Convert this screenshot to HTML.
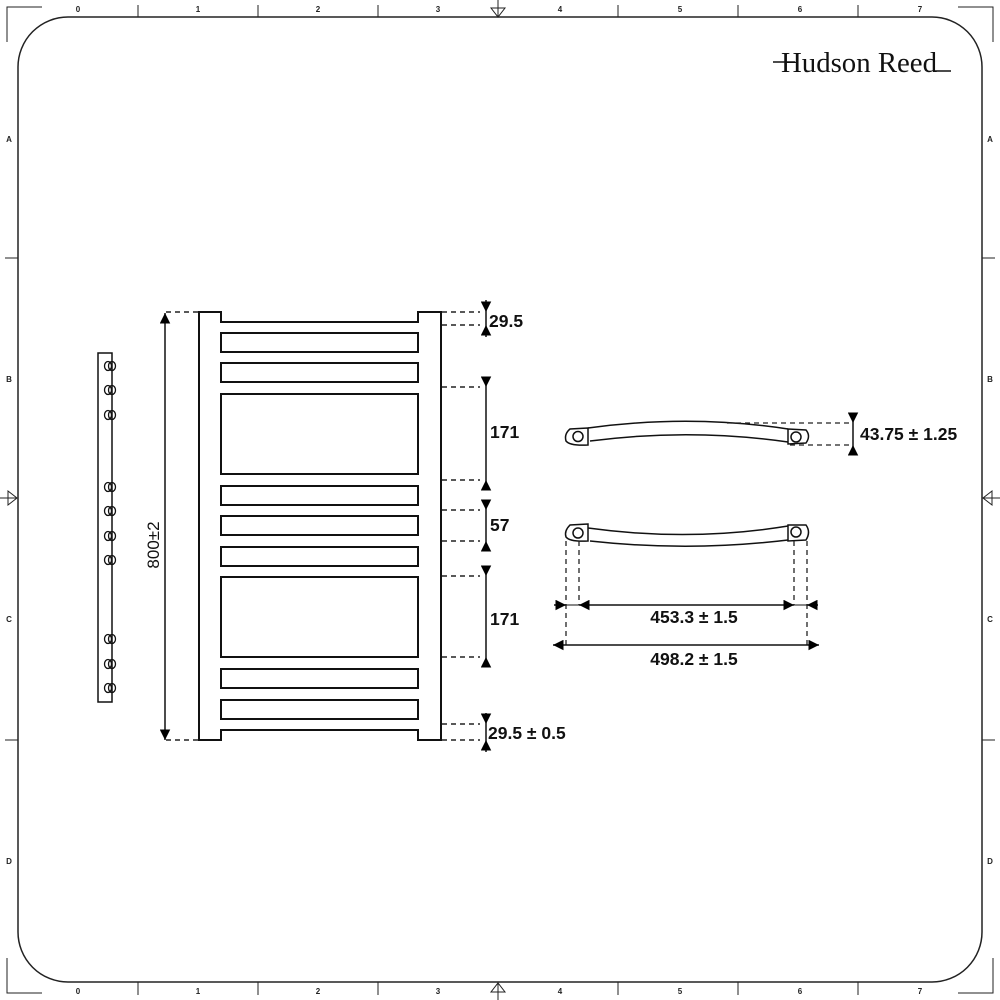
<!DOCTYPE html>
<html><head><style>html,body{margin:0;padding:0;background:#fff}svg{display:block}</style></head>
<body>
<svg width="1000" height="1000" viewBox="0 0 1000 1000" xmlns="http://www.w3.org/2000/svg" font-family="Liberation Sans, sans-serif">
<defs>
<marker id="ar" viewBox="0 0 10 10" refX="10" refY="5" markerWidth="7" markerHeight="7" orient="auto-start-reverse"><path d="M0,0 L10,5 L0,10 z" fill="#000"/></marker>
</defs>
<!-- frame -->
<g fill="none" stroke="#222" stroke-width="1.5">
<path d="M68,17 H932 A50,50 0 0 1 982,67 V932 A50,50 0 0 1 932,982 H68 A50,50 0 0 1 18,932 V67 A50,50 0 0 1 68,17 Z"/>
<path d="M7,42 V7 H42 M958,7 H993 V42 M7,958 V993 H42 M958,993 H993 V958" stroke-width="1"/>
<path d="M138,5 V17 M258,5 V17 M378,5 V17 M618,5 V17 M738,5 V17 M858,5 V17 M138,982 V995 M258,982 V995 M378,982 V995 M618,982 V995 M738,982 V995 M858,982 V995 M5,258 H18 M5,740 H18 M982,258 H995 M982,740 H995" stroke-width="1"/>
<path d="M498,0 V17 M491,8 L505,8 L498,17 Z M498,982 V1000 M491,992 L505,992 L498,983 Z M0,498 H17 M8,491 L8,505 L17,498 Z M982,498 H1000 M992,491 L992,505 L983,498 Z" stroke-width="1"/>
</g>
<g font-size="8" font-weight="bold" fill="#222" text-anchor="middle">
<text x="78" y="12">0</text><text x="198" y="12">1</text><text x="318" y="12">2</text><text x="438" y="12">3</text><text x="560" y="12">4</text><text x="680" y="12">5</text><text x="800" y="12">6</text><text x="920" y="12">7</text>
<text x="78" y="994">0</text><text x="198" y="994">1</text><text x="318" y="994">2</text><text x="438" y="994">3</text><text x="560" y="994">4</text><text x="680" y="994">5</text><text x="800" y="994">6</text><text x="920" y="994">7</text>
<text x="9" y="142">A</text><text x="9" y="382">B</text><text x="9" y="622">C</text><text x="9" y="864">D</text>
<text x="990" y="142">A</text><text x="990" y="382">B</text><text x="990" y="622">C</text><text x="990" y="864">D</text>
</g>
<!-- logo -->
<text x="781" y="72" font-family="Liberation Serif, serif" font-size="28" fill="#111" textLength="156" lengthAdjust="spacingAndGlyphs">Hudson Reed</text>
<path d="M773,62 H795 M935,71 H951" stroke="#111" stroke-width="1.5"/>
<!-- radiator -->
<g fill="none" stroke="#111" stroke-width="2">
<path d="M199,312 H221 V322 H418 V312 H441 V740 H418 V730 H221 V740 H199 Z"/>
<rect x="221" y="333" width="197" height="19"/>
<rect x="221" y="363" width="197" height="19"/>
<rect x="221" y="394" width="197" height="80"/>
<rect x="221" y="486" width="197" height="19"/>
<rect x="221" y="516" width="197" height="19"/>
<rect x="221" y="547" width="197" height="19"/>
<rect x="221" y="577" width="197" height="80"/>
<rect x="221" y="669" width="197" height="19"/>
<rect x="221" y="700" width="197" height="19"/>
</g>
<!-- side view -->
<path d="M112,353 H98 V702 H112 Z" fill="none" stroke="#111" stroke-width="1.5"/>
<g fill="none" stroke="#111" stroke-width="1.3">
<g id="c"><ellipse cx="108" cy="366" rx="3.5" ry="4.5"/><ellipse cx="112" cy="366" rx="3.5" ry="4.5"/></g>
<use href="#c" y="24"/><use href="#c" y="49"/><use href="#c" y="121"/><use href="#c" y="145"/><use href="#c" y="170"/><use href="#c" y="194"/><use href="#c" y="273"/><use href="#c" y="298"/><use href="#c" y="322"/>
</g>
<!-- 800 dim -->
<line x1="165" y1="740" x2="165" y2="313" stroke="#111" stroke-width="1.5" marker-start="url(#ar)" marker-end="url(#ar)"/>
<path d="M166,312 H199 M166,740 H199" stroke="#222" stroke-width="1.5" stroke-dasharray="5,4"/>
<text transform="translate(159,545) rotate(-90)" font-size="17" text-anchor="middle" fill="#111">800±2</text>
<!-- right dims -->
<path d="M442,312 H480 M442,325 H480 M442,387 H480 M442,480 H480 M442,510 H480 M442,541 H480 M442,576 H480 M442,657 H480 M442,724 H480 M442,740 H480" stroke="#222" stroke-width="1.5" stroke-dasharray="5,4"/>
<g stroke="#111" stroke-width="1.5">
<line x1="486" y1="300" x2="486" y2="312" marker-end="url(#ar)"/><line x1="486" y1="337" x2="486" y2="325" marker-end="url(#ar)"/><line x1="486" y1="312" x2="486" y2="325"/>
<line x1="486" y1="377" x2="486" y2="387" marker-end="url(#ar)"/><line x1="486" y1="490" x2="486" y2="480" marker-end="url(#ar)"/><line x1="486" y1="387" x2="486" y2="480"/>
<line x1="486" y1="500" x2="486" y2="510" marker-end="url(#ar)"/><line x1="486" y1="551" x2="486" y2="541" marker-end="url(#ar)"/><line x1="486" y1="510" x2="486" y2="541"/>
<line x1="486" y1="566" x2="486" y2="576" marker-end="url(#ar)"/><line x1="486" y1="667" x2="486" y2="657" marker-end="url(#ar)"/><line x1="486" y1="576" x2="486" y2="657"/>
<line x1="486" y1="713" x2="486" y2="724" marker-end="url(#ar)"/><line x1="486" y1="752" x2="486" y2="740" marker-end="url(#ar)"/><line x1="486" y1="724" x2="486" y2="740"/>
</g>
<g font-size="17.5" font-weight="bold" fill="#111">
<text x="489" y="327">29.5</text>
<text x="490" y="438">171</text>
<text x="490" y="531">57</text>
<text x="490" y="625">171</text>
<text x="488" y="739">29.5 ± 0.5</text>
<text x="860" y="440">43.75 ± 1.25</text>
<text x="694" y="623" text-anchor="middle">453.3 ± 1.5</text>
<text x="694" y="665" text-anchor="middle">498.2 ± 1.5</text>
</g>
<!-- handles -->
<g fill="none" stroke="#111" stroke-width="1.5">
<path d="M588,428 L570,429 Q564,434 566,441 Q570,446 588,445 Z"/><circle cx="578" cy="436.5" r="5"/>
<path d="M588,428 Q690,414 788,429 M590,441 Q690,428 788,442"/>
<path d="M788,429 L806,430 Q811,436 806,443 L788,444 Z"/><circle cx="796" cy="437" r="5"/>
<path d="M588,524 L570,525 Q564,531 566,537 Q570,542 588,541 Z"/><circle cx="578" cy="533" r="5"/>
<path d="M588,528 Q690,542 788,526 M590,541 Q690,552 788,540"/>
<path d="M788,525 L806,525 Q811,532 806,540 L788,541 Z"/><circle cx="796" cy="532" r="5"/>
</g>
<path d="M727,423 H850 M790,445 H850 M566,541 V645 M579,541 V605 M794,541 V605 M807,541 V645" stroke="#222" stroke-width="1.3" stroke-dasharray="5,4"/>
<g stroke="#111" stroke-width="1.5">
<line x1="853" y1="423" x2="853" y2="445"/>
<line x1="853" y1="413" x2="853" y2="423" marker-end="url(#ar)"/><line x1="853" y1="455" x2="853" y2="445" marker-end="url(#ar)"/>
<line x1="554" y1="605" x2="566" y2="605" marker-end="url(#ar)"/><line x1="818" y1="605" x2="807" y2="605" marker-end="url(#ar)"/>
<line x1="566" y1="605" x2="579" y2="605" stroke-width="1"/><line x1="794" y1="605" x2="807" y2="605" stroke-width="1"/>
<line x1="579" y1="605" x2="794" y2="605" marker-start="url(#ar)" marker-end="url(#ar)"/>
<line x1="553" y1="645" x2="819" y2="645" marker-start="url(#ar)" marker-end="url(#ar)"/>
</g>
</svg>
</body></html>
